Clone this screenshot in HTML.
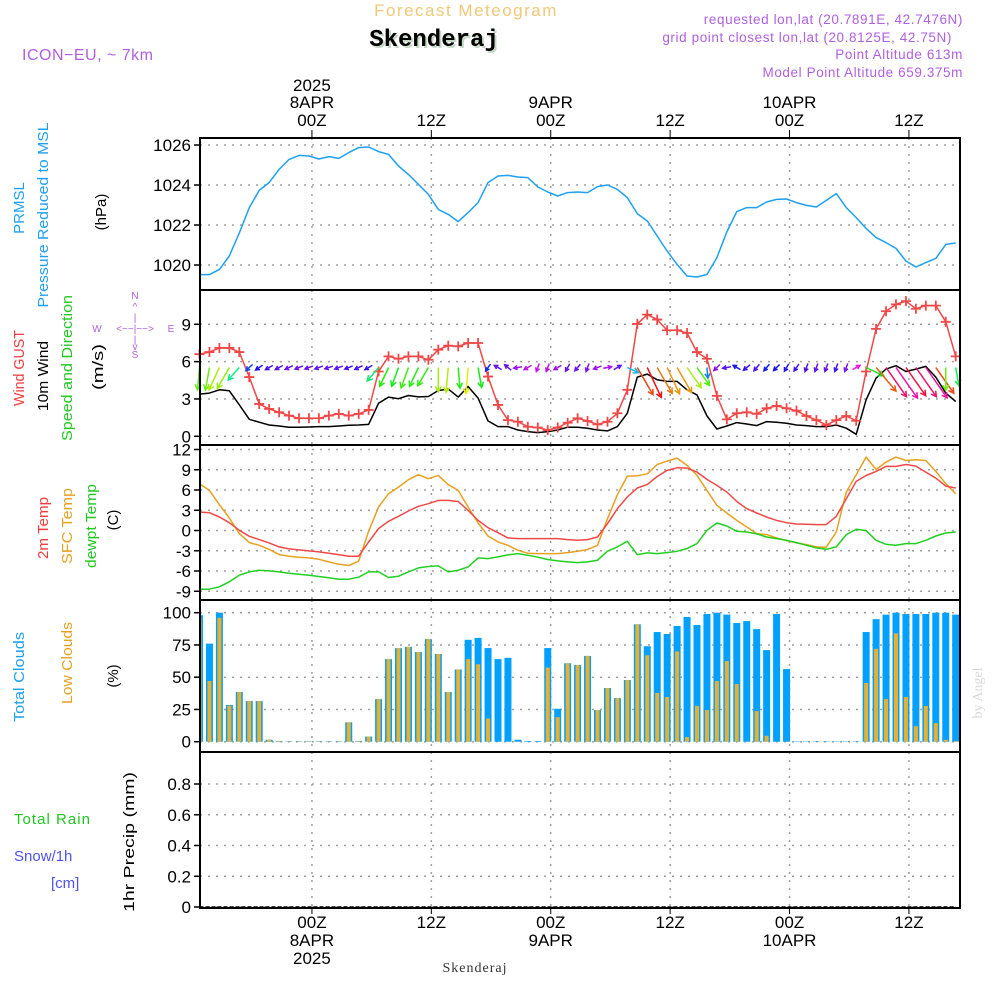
<!DOCTYPE html>
<html><head><meta charset="utf-8">
<style>
html,body{margin:0;padding:0;background:#fff;}
svg{display:block;font-family:"Liberation Sans",sans-serif;}
</style></head>
<body>
<svg id="chart" width="1000" height="1000" viewBox="0 0 1000 1000" xmlns="http://www.w3.org/2000/svg">
<rect x="0" y="0" width="1000" height="1000" fill="#fff"/>
<text x="466" y="16" font-size="17" fill="#f0c878" text-anchor="middle" letter-spacing="1.5">Forecast Meteogram</text>
<text x="436" y="48" font-size="24" font-weight="bold" font-family="Liberation Mono, monospace" fill="#c8d8c8" text-anchor="middle">Skenderaj</text>
<text x="434" y="46" font-size="24" font-weight="bold" font-family="Liberation Mono, monospace" fill="#000" text-anchor="middle">Skenderaj</text>
<text x="22" y="60" font-size="16" fill="#b060e0" letter-spacing="0.5">ICON−EU, ~ 7km</text>
<g font-size="13.5" fill="#b060e0" text-anchor="end" letter-spacing="0.6">
<text x="963" y="24">requested lon,lat (20.7891E, 42.7476N)</text>
<text x="952" y="42">grid point closest lon,lat (20.8125E, 42.75N)</text>
<text x="963" y="59">Point Altitude 613m</text>
<text x="963" y="77">Model Point Altitude 659.375m</text>
</g>
<g id="grid"></g>
<g id="marks"></g>
<g id="axes"></g>
<g font-size="15">
<text transform="translate(24,208) rotate(-90)" text-anchor="middle" fill="#1ea0f0">PRMSL</text>
<text transform="translate(48,215) rotate(-90)" text-anchor="middle" fill="#1ea0f0" textLength="185" lengthAdjust="spacingAndGlyphs">Pressure Reduced to MSL</text>
<text transform="translate(106,212) rotate(-90)" text-anchor="middle" fill="#000">(hPa)</text>
<text transform="translate(24,368) rotate(-90)" text-anchor="middle" fill="#f03c3c" textLength="76" lengthAdjust="spacingAndGlyphs">Wind GUST</text>
<text transform="translate(48,376) rotate(-90)" text-anchor="middle" fill="#000" textLength="70" lengthAdjust="spacingAndGlyphs">10m Wind</text>
<text transform="translate(72,368) rotate(-90)" text-anchor="middle" fill="#20c820" textLength="146" lengthAdjust="spacingAndGlyphs">Speed and Direction</text>
<text transform="translate(103,367) rotate(-90)" text-anchor="middle" fill="#000" textLength="46" lengthAdjust="spacingAndGlyphs">(m/s)</text>
<g fill="#b060e0" font-size="10" text-anchor="middle">
<text x="135" y="299">N</text><text x="135" y="310">^</text><text x="135" y="321">|</text>
<text x="97" y="332">W</text><text x="135" y="332">&lt;−−|−−&gt;</text><text x="171" y="332">E</text>
<text x="135" y="343">|</text><text x="135" y="350">v</text><text x="135" y="358">S</text>
</g>
<text transform="translate(48,528) rotate(-90)" text-anchor="middle" fill="#f03c3c" textLength="62" lengthAdjust="spacingAndGlyphs">2m Temp</text>
<text transform="translate(72,526) rotate(-90)" text-anchor="middle" fill="#e8a020" textLength="76" lengthAdjust="spacingAndGlyphs">SFC Temp</text>
<text transform="translate(96,526) rotate(-90)" text-anchor="middle" fill="#20c820" textLength="84" lengthAdjust="spacingAndGlyphs">dewpt Temp</text>
<text transform="translate(118,520) rotate(-90)" text-anchor="middle" fill="#000">(C)</text>
<text transform="translate(24,677) rotate(-90)" text-anchor="middle" fill="#1ea0f0" textLength="90" lengthAdjust="spacingAndGlyphs">Total Clouds</text>
<text transform="translate(72,663) rotate(-90)" text-anchor="middle" fill="#e8a020" textLength="82" lengthAdjust="spacingAndGlyphs">Low Clouds</text>
<text transform="translate(118,676) rotate(-90)" text-anchor="middle" fill="#000">(%)</text>
<text x="14" y="824" fill="#20c820" textLength="76" lengthAdjust="spacing">Total  Rain</text>
<text x="14" y="861" fill="#5050f0">Snow/1h</text>
<text x="51" y="888" fill="#5050f0">[cm]</text>
<text transform="translate(134,842) rotate(-90)" text-anchor="middle" fill="#000" textLength="140" lengthAdjust="spacingAndGlyphs">1hr Precip (mm)</text>
</g>
<text transform="translate(982,693) rotate(-90)" text-anchor="middle" font-size="14" font-family="Liberation Serif, serif" fill="#d8d8d8">by Angel</text>
<text x="475" y="972" text-anchor="middle" font-size="14" font-family="Liberation Serif, serif" fill="#333" letter-spacing="1">Skenderaj</text>
</svg>
<script>
const hours = Array.from({length:77},(_,i)=>i);
const pressure = [1019.52,1019.52,1019.78,1020.45,1021.6,1022.87,1023.73,1024.12,1024.78,1025.28,1025.48,1025.45,1025.3,1025.42,1025.33,1025.62,1025.87,1025.9,1025.67,1025.53,1024.95,1024.53,1024.03,1023.53,1022.78,1022.53,1022.17,1022.62,1023.12,1024.12,1024.45,1024.48,1024.4,1024.37,1023.9,1023.65,1023.45,1023.62,1023.65,1023.62,1023.92,1024.0,1023.78,1023.37,1022.57,1022.2,1021.45,1020.7,1020.03,1019.45,1019.4,1019.53,1020.37,1021.65,1022.67,1022.87,1022.87,1023.15,1023.28,1023.3,1023.12,1022.98,1022.9,1023.23,1023.57,1022.87,1022.37,1021.83,1021.37,1021.12,1020.83,1020.2,1019.9,1020.12,1020.33,1021.03,1021.1];
const gust = [6.6,6.77,7.1,7.1,6.77,4.76,2.6,2.2,1.93,1.66,1.45,1.45,1.45,1.66,1.8,1.66,1.8,2.12,5.21,6.42,6.23,6.42,6.42,6.15,6.96,7.28,7.23,7.5,7.5,4.8,2.52,1.3,1.17,0.77,0.71,0.5,0.71,1.09,1.45,1.23,0.96,1.17,1.85,3.73,9.03,9.78,9.38,8.52,8.52,8.3,6.77,6.23,3.25,1.36,1.85,1.93,1.8,2.25,2.44,2.25,2.06,1.63,1.3,0.9,1.3,1.63,1.25,5.21,8.63,10.05,10.6,10.86,10.25,10.5,10.5,9.2,6.42];
const wind10m = [3.39,3.47,3.74,3.66,2.53,1.37,1.13,0.91,0.83,0.73,0.73,0.75,0.78,0.78,0.83,0.89,0.91,0.96,2.66,3.15,3.02,3.28,3.17,3.2,3.68,3.79,3.15,4.0,3.07,1.24,0.78,0.78,0.51,0.38,0.3,0.38,0.51,0.73,0.73,0.65,0.51,0.43,0.78,1.85,4.76,5.0,4.54,4.41,4.41,3.74,3.33,1.63,0.59,0.83,1.1,0.99,0.86,1.18,1.13,1.05,0.91,0.86,0.78,0.78,0.91,0.65,0.16,2.93,4.68,5.4,5.67,5.21,5.4,5.62,4.76,3.47,2.8];
const windDir = [185,190,205,210,222,228,235,240,242,245,248,250,250,252,250,248,245,240,220,205,200,200,205,210,180,185,175,185,170,215,300,310,260,240,200,200,240,210,220,200,250,80,60,115,150,155,150,155,150,145,145,175,225,260,300,230,220,220,225,210,215,200,200,200,200,200,60,115,140,145,145,145,145,145,145,180,170];
const temp2m = [2.74,2.64,2.0,1.16,0.03,-0.86,-1.35,-1.84,-2.43,-2.73,-2.88,-3.02,-3.17,-3.37,-3.57,-3.81,-3.81,-1.7,0.28,1.36,2.1,2.89,3.58,3.97,4.46,4.46,4.3,2.98,1.5,0.42,-0.32,-1.1,-1.2,-1.2,-1.2,-1.2,-1.2,-1.35,-1.45,-1.35,-0.96,1.01,3.23,4.96,6.29,6.83,8.0,8.9,9.29,9.24,8.65,7.57,6.68,5.7,4.3,3.23,2.59,2.0,1.5,1.16,0.97,0.92,0.87,0.87,2.1,4.7,7.27,8.15,8.75,9.49,9.49,9.78,9.54,8.65,7.77,6.58,6.3];
const sfcTemp = [6.93,5.94,3.82,1.85,-0.46,-1.79,-2.19,-2.78,-3.57,-3.81,-3.96,-4.06,-4.26,-4.65,-5.0,-5.19,-4.55,-0.12,3.48,5.45,6.43,7.52,8.26,7.67,8.16,6.78,5.94,3.48,1.11,-0.81,-1.69,-2.19,-2.93,-3.37,-3.42,-3.42,-3.42,-3.27,-3.07,-2.83,-2.19,1.75,5.3,8.06,8.11,8.4,9.78,10.28,10.72,9.64,8.16,5.94,3.72,2.59,1.5,0.52,-0.46,-0.61,-1.1,-1.5,-1.84,-2.09,-2.43,-2.48,-0.22,5.7,8.26,10.87,9.04,10.13,10.87,10.37,10.47,10.37,8.75,6.93,5.45];
const dewpt = [-8.69,-8.69,-8.34,-7.6,-6.62,-6.13,-5.88,-5.98,-6.13,-6.32,-6.47,-6.62,-6.82,-7.01,-7.21,-7.21,-6.92,-6.13,-6.13,-6.97,-6.77,-6.13,-5.54,-5.34,-5.24,-6.13,-5.88,-5.39,-4.06,-4.16,-3.91,-3.61,-3.42,-3.66,-3.96,-4.3,-4.5,-4.65,-4.75,-4.65,-4.4,-3.07,-2.43,-1.6,-3.57,-3.32,-3.42,-3.27,-3.07,-2.68,-1.94,0.03,1.11,0.67,-0.12,-0.22,-0.51,-0.96,-1.2,-1.45,-1.79,-2.19,-2.58,-2.78,-2.43,-0.61,0.18,-0.02,-1.45,-2.04,-2.19,-1.94,-1.94,-1.45,-0.81,-0.37,-0.22];
const totalClouds = [98,76,100,28.5,38.5,31.5,31.5,1.5,0.5,0.3,0.3,0.3,0.3,0.3,0.3,15,0.5,4,33,64,72.5,73.5,69.5,79.5,68,38.5,56,79,80.5,72.6,64,65,1.5,0.5,0.5,72.6,25.5,60.8,59.5,66.5,24.5,41.6,33.8,47.8,91,74,85,83.5,89.7,96.7,90.5,99,100,98.5,92,93.5,87.3,71,99,56.3,0.3,0.3,0.3,0.3,0.3,0.3,0.3,85,95,98.5,100,99,99,99,100,100,98.5];
const lowClouds = [96,47,96,28,38.5,31.5,31.5,1.5,0.5,0.3,0.3,0.3,0.3,0.3,0.3,15,0.5,4,33,64,72.5,73.5,69.5,79.5,68,38.5,56,64,60,18,0,0,0,0,0,57.5,19,60.8,59.5,66.5,24.5,41.6,33.8,47.8,91,67,37.8,34.7,70,3.6,27.7,24.5,47,62.5,44.7,0,23.7,4.6,0,0,0,0,0,0,0,0,0,45.5,72,33,84,34.7,12,27.7,14.4,1.5,0.5];
const precip = new Array(77).fill(0);
const timeTicks = [{h:11.3,l:"00Z",d:"8APR",y:"2025"},{h:23.3,l:"12Z"},{h:35.3,l:"00Z",d:"9APR"},{h:47.3,l:"12Z"},{h:59.3,l:"00Z",d:"10APR"},{h:71.3,l:"12Z"}];
const pTicks=[1020,1022,1024,1026], wTicks=[0,3,6,9], tTicks=[-9,-6,-3,0,3,6,9,12], cTicks=[0,25,50,75,100], rTicks=[0,0.2,0.4,0.6,0.8];

const NS="http://www.w3.org/2000/svg";
const X0=200,X1=960;
const xs = h => 199.5 + h*9.95;
const lin=(v0,y0,v1,y1)=>v=>y0+(v-v0)*(y1-y0)/(v1-v0);
const yP=lin(1020,265,1026,145), yW=lin(0,436.3,9,324.3), yT=lin(0,530.5,12,449.5), yC=lin(0,741.7,100,612.7), yR=lin(0,907,0.8,784);
const panels=[{t:138,b:290,s:yP,ticks:pTicks,n:"pressure"},{t:290,b:445,s:yW,ticks:wTicks,n:"wind"},{t:445,b:600,s:yT,ticks:tTicks,n:"temp"},{t:600,b:752,s:yC,ticks:cTicks,n:"clouds"},{t:752,b:908,s:yR,ticks:rTicks,n:"precip"}];
const grid=document.getElementById('grid'), marks=document.getElementById('marks'), axes=document.getElementById('axes');
function el(tag,attrs,parent){const e=document.createElementNS(NS,tag);for(const k in attrs)e.setAttribute(k,attrs[k]);parent.appendChild(e);return e;}

panels.forEach(p=>{
  timeTicks.forEach(tt=>{
    const g=el('line',{x1:xs(tt.h),x2:xs(tt.h),y1:p.t,y2:p.b,stroke:'#a0a0a0','stroke-width':1.5,'stroke-dasharray':'2,6'},grid);
    
    
  });
  p.ticks.forEach(v=>{
    const y=p.s(v);
    const g=el('line',{x1:X0,x2:X1,y1:y,y2:y,stroke:'#a0a0a0','stroke-width':1.5,'stroke-dasharray':'2,6'},grid);
    
    
    const tk=el('line',{x1:X0-6,x2:X0,y1:y,y2:y,stroke:'#000','stroke-width':1.5},axes);
    
    
    const t=el('text',{x:X0-9,y:y+6,'text-anchor':'end','font-size':17,fill:'#000'},axes);
    t.textContent=String(v);
    
    
  });
  const r=el('rect',{x:X0,y:p.t,width:X1-X0,height:p.b-p.t,fill:'none',stroke:'#000','stroke-width':2},axes);
  
  
});
timeTicks.forEach(tt=>{
  const x=xs(tt.h);
  [[130,137],[908,914]].forEach(([a,b])=>{const l=el('line',{x1:x,x2:x,y1:a,y2:b,stroke:'#000','stroke-width':1},axes);});
  const rows=[[tt.l,126,928]];
  if(tt.d) rows.push([tt.d,108,946]);
  if(tt.y) rows.push([tt.y,91,964]);
  rows.forEach(([s,yt,yb])=>{
    [yt,yb].forEach(yy=>{
      const t=el('text',{x:x,y:yy,'text-anchor':'middle','font-size':17,fill:'#000'},axes);
      t.textContent=s;
      
      
    });
  });
});
function poly(arr,scale,color,name,w){
  const pts=arr.map((v,i)=>xs(i).toFixed(1)+','+scale(v).toFixed(1)).join(' ');
  const pl=el('polyline',{points:pts,fill:'none',stroke:color,'stroke-width':w||1.5,'stroke-linejoin':'round'},marks);
  
  
}
hours.forEach(i=>{
  const x=xs(i);
  const x0=Math.max(X0+1,x-3.5), x1=Math.min(X1-1,x+3.5);
  if(x1<=x0) return;
  const b=el('rect',{x:x0,y:yC(totalClouds[i]),width:x1-x0,height:yC(0)-yC(totalClouds[i]),fill:'#00a0ff'},marks);
  
  
  const o0=Math.max(X0+1,x-2), o1=Math.min(X1-1,x+2);
  if(o1>o0){
  const o=el('rect',{x:o0,y:yC(lowClouds[i]),width:o1-o0,height:yC(0)-yC(lowClouds[i]),fill:'#e8b030'},marks);
  
  }
});
poly(pressure,yP,'#1ea0f0','pressure-line');
poly(wind10m,yW,'#000','wind-10m-line');
poly(gust,yW,'#f04848','gust-line');
gust.forEach((v,i)=>{
  const x=xs(i),y=yW(v);
  const c=el('path',{d:`M${x-5},${y}h10M${x},${y-5}v10`,stroke:'#f04848','stroke-width':1.8},marks);
  
  
});
windDir.forEach((d,i)=>{
  const sp=wind10m[i];
  const x=xs(i), y=367.5;
  const L=Math.max(8.5,sp*6.6);
  const a=d*Math.PI/180;
  const sx=L<10?x-0.5*L*Math.sin(a):x, sy=L<10?y+0.5*L*Math.cos(a):y;
  const ex=sx+L*Math.sin(a), ey=sy-L*Math.cos(a);
  let hue=(310-62*sp+720)%360;
  const col=`hsl(${hue},85%,50%)`;
  const ha=0.5, hl=Math.min(6,Math.max(4,L*0.5));
  const b1x=ex-hl*Math.sin(a-ha), b1y=ey+hl*Math.cos(a-ha);
  const b2x=ex-hl*Math.sin(a+ha), b2y=ey+hl*Math.cos(a+ha);
  const p=el('path',{d:`M${sx},${sy}L${ex},${ey}M${b1x},${b1y}L${ex},${ey}L${b2x},${b2y}`,stroke:col,'stroke-width':1.5,fill:'none'},marks);
  
  
});
poly(sfcTemp,yT,'#e8a020','sfc-temp-line');
poly(temp2m,yT,'#f04848','temp-2m-line');
poly(dewpt,yT,'#20d020','dewpoint-line');
const pr=precip.map((v,i)=>xs(i).toFixed(1)+','+yR(v).toFixed(1)).join(' ');
const pl=el('polyline',{points:pr,fill:'none',stroke:'#000','stroke-width':1.5,'stroke-dasharray':'4,2'},marks);


</script>
</body></html>
